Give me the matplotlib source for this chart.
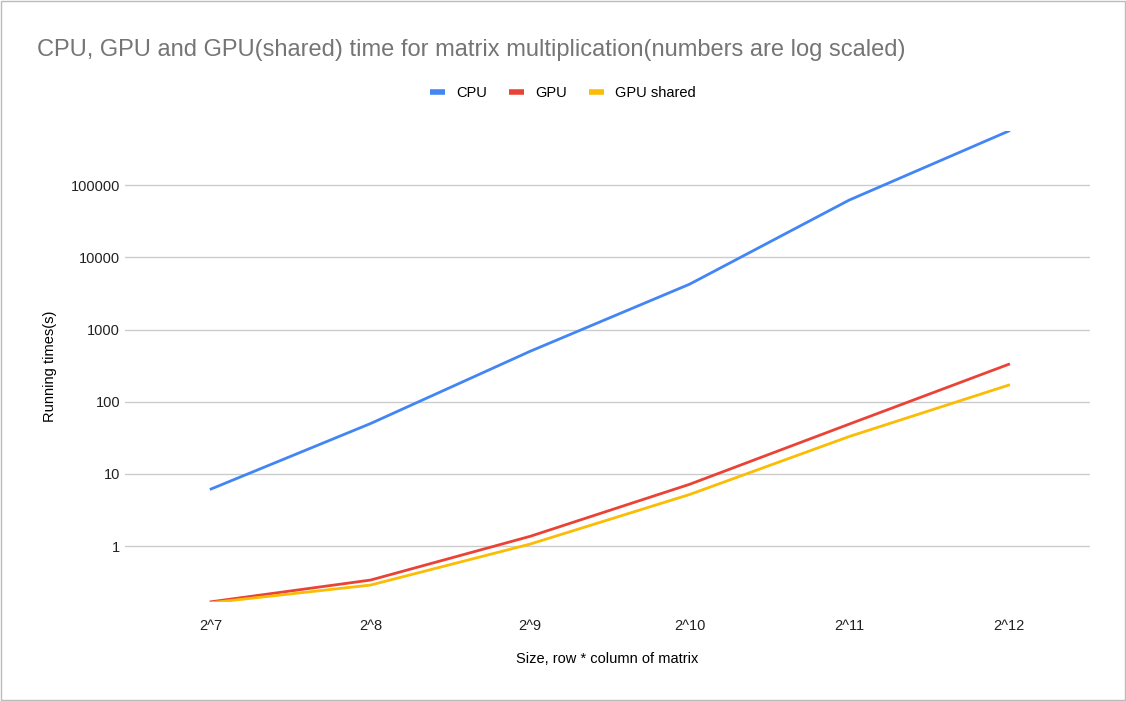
import matplotlib.pyplot as plt
from matplotlib.lines import Line2D
import numpy as np

plt.rcParams["font.family"] = ["Liberation Sans", "DejaVu Sans"]

sizes = ["2^7", "2^8", "2^9", "2^10", "2^11", "2^12"]
cpu = [6.2, 50, 500, 4250, 62000, 560000]
gpu = [0.17, 0.34, 1.37, 7.2, 49, 330]
gpu_shared = [0.165, 0.29, 1.07, 5.2, 33, 170]

colors = ["#4285f4", "#ea4335", "#fbbc04"]
names = ["CPU", "GPU", "GPU shared"]

fig = plt.figure(figsize=(11.26, 7.01), dpi=100)
fig.patches.append(plt.Rectangle((0.001, 0.001), 0.998, 0.998, transform=fig.transFigure,
                                 fill=False, edgecolor="#bbbbbb", linewidth=1))
ax = fig.add_axes([0.111, 0.141, 0.857, 0.672])

x = np.arange(len(sizes))
for series, c, n in zip([cpu, gpu, gpu_shared], colors, names):
    ax.plot(x, series, color=c, lw=2, label=n)

ax.set_yscale("log")
ax.set_ylim(0.168, 560000)
ax.set_xlim(-0.54, 5.51)
ax.set_yticks([1, 10, 100, 1000, 10000, 100000])
ax.set_yticklabels(["1", "10", "100", "1000", "10000", "100000"])
ax.minorticks_off()
ax.set_xticks(x)
ax.set_xticklabels(sizes)
ax.tick_params(length=0, labelsize=10.5, colors="#222222")
ax.tick_params(axis="x", pad=12)
ax.grid(axis="y", color="#cccccc", lw=1)
ax.set_axisbelow(True)
for s in ax.spines.values():
    s.set_visible(False)

ax.set_xlabel("Size, row * column of matrix", fontsize=10.5, labelpad=14)
ax.set_ylabel("Running times(s)", fontsize=10.5, labelpad=10)

fig.text(0.033, 0.928, "CPU, GPU and GPU(shared) time for matrix multiplication(numbers are log scaled)",
         fontsize=17, color="#757575", va="center")
handles = [Line2D([], [], color=c, lw=4, solid_capstyle="butt") for c in colors]
fig.legend(handles, names, loc="center", bbox_to_anchor=(0.5, 0.867), ncol=3, frameon=False,
           fontsize=10.5, handlelength=1.0, columnspacing=1.5)

fig.savefig("out.png", dpi=100)
